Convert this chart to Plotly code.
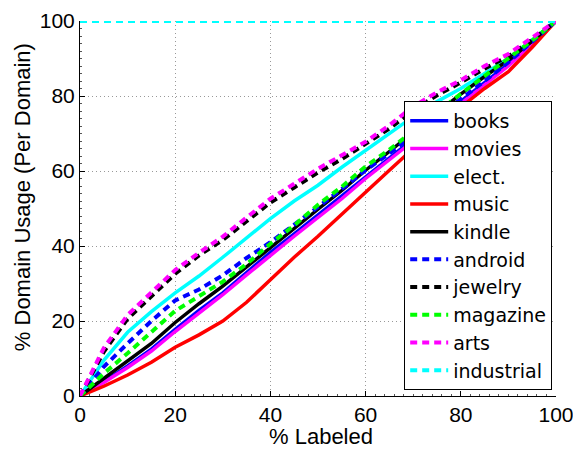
import plotly.graph_objects as go

x_pts = [0, 5, 10, 15, 20, 25, 30, 35, 40, 45, 50, 55, 60, 65, 70, 75, 80, 85, 90, 95, 100]

books    = [0, 3.8, 8.0, 12.5, 17.8, 22.8, 27.5, 33.0, 38.3, 43.2, 48.3, 53.3, 58.6, 63.6, 68.6, 73.6, 78.6, 83.6, 88.6, 94.0, 100]
movies   = [0, 3.6, 7.6, 12.0, 17.2, 22.2, 27.0, 32.3, 37.6, 42.6, 47.6, 52.6, 58.0, 63.0, 68.0, 73.0, 78.0, 83.0, 88.0, 93.8, 100]
elect    = [0, 9.5, 17.0, 22.5, 27.5, 32.0, 37.0, 42.3, 47.3, 52.0, 56.2, 61.0, 65.5, 70.0, 74.5, 78.5, 82.0, 86.0, 90.0, 95.0, 100]
music    = [0, 2.6, 5.6, 9.0, 13.0, 16.3, 20.0, 25.0, 31.0, 37.0, 42.6, 48.5, 54.6, 60.2, 66.0, 71.6, 77.0, 82.0, 86.5, 93.0, 100]
kindle   = [0, 4.6, 9.3, 14.0, 19.6, 24.6, 29.3, 34.5, 39.6, 44.6, 49.8, 54.8, 60.2, 65.2, 70.5, 75.5, 80.5, 85.2, 89.6, 94.6, 100]
android  = [0, 7.8, 14.0, 20.0, 25.5, 28.4, 32.2, 36.8, 41.0, 45.6, 50.4, 55.2, 60.2, 64.7, 69.5, 74.2, 79.0, 84.0, 89.0, 94.5, 100]
jewelry  = [0, 11.8, 20.6, 26.5, 32.6, 37.5, 41.6, 46.6, 51.6, 55.6, 59.6, 63.2, 67.2, 71.3, 76.2, 80.2, 83.6, 87.3, 90.6, 95.0, 100]
magazine = [0, 6.0, 11.4, 17.0, 22.7, 26.6, 30.5, 35.2, 40.6, 45.5, 51.0, 55.8, 61.2, 65.7, 70.8, 75.6, 80.6, 85.3, 89.8, 94.8, 100]
arts     = [0, 12.8, 21.6, 27.6, 33.6, 38.2, 42.5, 47.6, 52.6, 56.6, 60.6, 64.2, 67.8, 72.2, 77.2, 81.0, 84.2, 88.0, 91.2, 95.6, 100]
industrial_x = [0, 100]
industrial   = [100, 100]

x_title = "% Labeled"
y_title = "% Domain Usage (Per Domain)"

series = [
    ("books", x_pts, books, "#0000ff", "solid"),
    ("movies", x_pts, movies, "#ff00ff", "solid"),
    ("elect.", x_pts, elect, "#00ffff", "solid"),
    ("music", x_pts, music, "#ff0000", "solid"),
    ("kindle", x_pts, kindle, "#000000", "solid"),
    ("android", x_pts, android, "#0000ff", "7px,5px"),
    ("jewelry", x_pts, jewelry, "#000000", "7px,5px"),
    ("magazine", x_pts, magazine, "#00ff00", "7px,5px"),
    ("arts", x_pts, arts, "#ff00ff", "7px,5px"),
    ("industrial", industrial_x, industrial, "#00ffff", "7px,5px"),
]

fig = go.Figure()
for name, xs, ys, color, dash in series:
    w = 3.5 if dash == "solid" else 4
    fig.add_trace(go.Scatter(x=xs, y=ys, mode="lines", name=name,
                             line=dict(color=color, width=w, dash=dash),
                             cliponaxis=False))

font_family = "Liberation Sans, Arial, Helvetica, sans-serif"
axis_common = dict(
    range=[0, 100], dtick=20, showgrid=True, gridcolor="#999999", gridwidth=1,
    griddash="1px,3px", zeroline=False, showline=True, linecolor="black",
    linewidth=1, ticks="inside", ticklen=5, tickcolor="black", automargin=False,
    tickfont=dict(size=21, color="black", family=font_family),
    minor=dict(ticks="inside", ticklen=2, dtick=2, tickcolor="#555555", showgrid=False),
)

# the page body adds an 8px offset; margins compensate so the plot area
# lands where the reference has it
fig.update_layout(
    width=581, height=450,
    margin=dict(l=72, r=33, t=13, b=62),
    paper_bgcolor="white", plot_bgcolor="white",
    font=dict(family=font_family, size=21, color="black"),
    showlegend=True,
    legend=dict(x=0.992, y=0.016, xanchor="right", yanchor="bottom",
                bgcolor="white", bordercolor="black", borderwidth=1,
                font=dict(size=19, family="DejaVu Sans, sans-serif", color="black"),
                tracegroupgap=0, itemwidth=38),
    xaxis=axis_common,
    yaxis=axis_common,
    annotations=[
        dict(text=x_title, xref="paper", yref="paper", x=0.507, y=-0.107,
             xanchor="center", yanchor="middle", showarrow=False,
             font=dict(size=22, family=font_family, color="black")),
        dict(text=y_title, xref="paper", yref="paper", x=-0.122, y=0.53,
             xanchor="center", yanchor="middle", textangle=-90, showarrow=False,
             font=dict(size=22, family=font_family, color="black")),
    ],
)

fig.write_html("out.html")
